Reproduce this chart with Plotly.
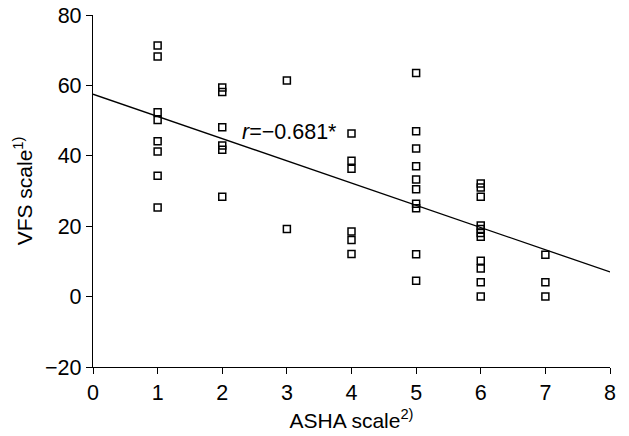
import plotly.graph_objects as go

# ASHA scale (x) and VFS scale (y) observations
asha = [1, 1, 1, 1, 1, 1, 1, 1,
        2, 2, 2, 2, 2, 2,
        3, 3,
        4, 4, 4, 4, 4, 4,
        5, 5, 5, 5, 5, 5, 5, 5, 5, 5,
        6, 6, 6, 6, 6, 6, 6, 6, 6, 6, 6,
        7, 7, 7]
vfs = [71.3, 68.2, 52.4, 50.2, 44.1, 41.2, 34.3, 25.3,
       59.4, 58.1, 48.1, 42.9, 41.7, 28.4,
       61.4, 19.2,
       46.3, 38.6, 36.3, 18.5, 16.1, 12.1,
       63.5, 47.0, 42.1, 37.0, 33.3, 30.5, 26.4, 25.1, 12.0, 4.5,
       32.1, 31.0, 28.4, 20.2, 19.2, 18.1, 17.0, 10.2, 8.0, 4.1, 0.0,
       11.9, 4.1, 0.0]

# regression line end points
fit_x = [0, 8]
fit_y = [57.5, 7.0]

FONT = "Arial, Liberation Sans, sans-serif"

fig = go.Figure()
fig.add_trace(go.Scatter(
    x=fit_x, y=fit_y, mode="lines",
    line=dict(color="black", width=1.3), showlegend=False, hoverinfo="skip"))
fig.add_trace(go.Scatter(
    x=asha, y=vfs, mode="markers",
    marker=dict(symbol="square-open", size=7, color="black",
                line=dict(width=1.5, color="black")),
    showlegend=False))

fig.add_annotation(x=2.28, y=46.8, xref="x", yref="y", xanchor="left", yanchor="middle",
                   text="<i>r</i>=−0.681*", showarrow=False,
                   font=dict(size=21.5, color="black", family=FONT))

axis_common = dict(showline=True, linecolor="black", linewidth=1.3,
                   ticks="outside", ticklen=6, tickwidth=1.3, tickcolor="black",
                   showgrid=False, zeroline=False, automargin=False,
                   tickfont=dict(size=21.5, color="black", family=FONT))

fig.update_xaxes(range=[0, 8], dtick=1, tick0=0,
                 title=dict(text="ASHA scale<sup>2)</sup>", font=dict(size=21, color="black", family=FONT), standoff=9),
                 **axis_common)
fig.update_yaxes(range=[-20, 80], dtick=20, tick0=-20,
                 title=dict(text="VFS scale<sup>1)</sup>", font=dict(size=21, color="black", family=FONT), standoff=6),
                 **axis_common)

fig.update_layout(width=629, height=436,
                  margin=dict(l=93, r=19, t=15, b=69),
                  plot_bgcolor="white", paper_bgcolor="white",
                  font=dict(family=FONT, color="black"))

fig.write_html("out.html")
